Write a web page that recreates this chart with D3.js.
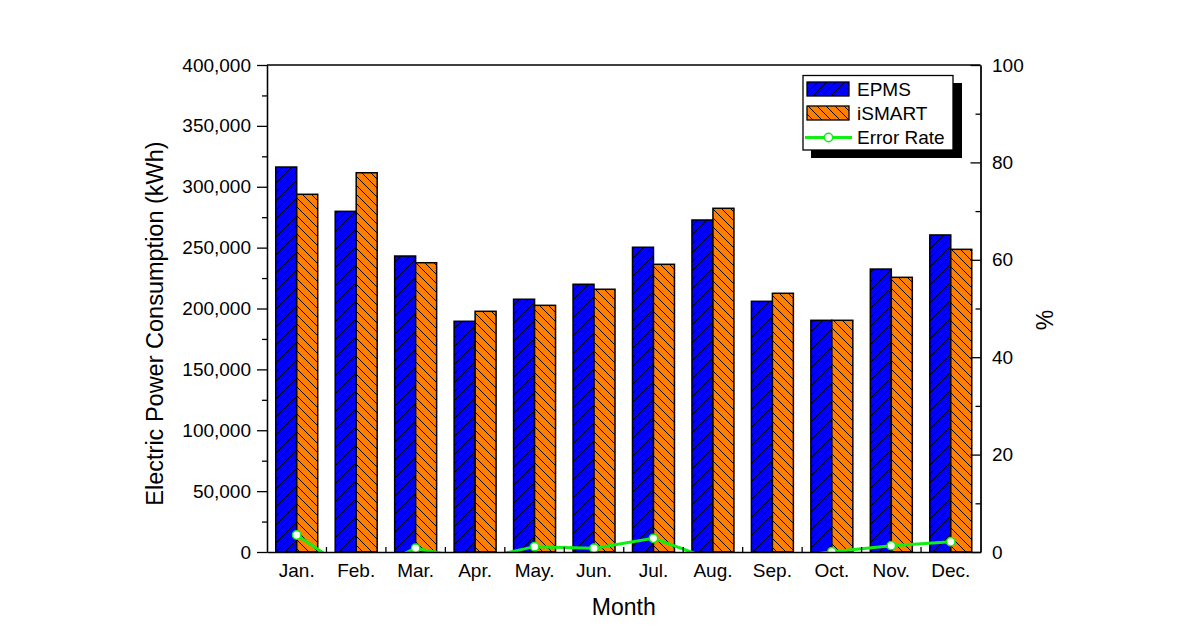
<!DOCTYPE html>
<html><head><meta charset="utf-8">
<script src="https://cdn.jsdelivr.net/npm/d3@7"></script>
<style>body{margin:0;background:#fff;} text{font-family:Arial,"Liberation Sans",sans-serif;fill:#000;}</style>
</head><body><svg id="c" width="1177" height="630"></svg>
<script>
const months = ["Jan.","Feb.","Mar.","Apr.","May.","Jun.","Jul.","Aug.","Sep.","Oct.","Nov.","Dec."];
const epms = [316200, 279800, 243100, 189500, 207600, 219900, 250300, 272700, 205900, 190300, 232400, 260400];
const ismart = [293800, 311500, 237600, 197700, 202600, 215800, 236300, 282300, 212500, 190300, 225600, 248600];
const errorRate = [3.5, -4.8, 0.76, -1.6, 1.1, 0.76, 2.8, -1.6, -1.5, 0.05, 1.3, 2.1];
const leftTicks = [0, 50000, 100000, 150000, 200000, 250000, 300000, 350000, 400000];
const leftMinor = [25000, 75000, 125000, 175000, 225000, 275000, 325000, 375000];
const rightTicks = [0, 20, 40, 60, 80, 100];
const rightMinor = [10, 30, 50, 70, 90];
const seriesNames = ["EPMS", "iSMART", "Error Rate"];

const L = 267, R = 980.5, T = 65, B = 552;
const svg = d3.select("#c");
const defs = svg.append("defs");
const S = 9;
const hb = defs.append("pattern").attr("id","hb").attr("patternUnits","userSpaceOnUse").attr("width",S).attr("height",S);
hb.append("rect").attr("width",S).attr("height",S).attr("fill","#0000ff");
hb.append("path").attr("d",`M-2,2 L2,-2 M0,${S} L${S},0 M${S-2},${S+2} L${S+2},${S-2}`).attr("stroke","#000").attr("stroke-width",1).attr("shape-rendering","crispEdges");
const ho = defs.append("pattern").attr("id","ho").attr("patternUnits","userSpaceOnUse").attr("width",S).attr("height",S);
ho.append("rect").attr("width",S).attr("height",S).attr("fill","#ff8000");
ho.append("path").attr("d",`M-2,${S-2} L2,${S+2} M0,0 L${S},${S} M${S-2},-2 L${S+2},2`).attr("stroke","#000").attr("stroke-width",1).attr("shape-rendering","crispEdges");
defs.append("clipPath").attr("id","clip").append("rect").attr("x",L).attr("y",T).attr("width",R-L).attr("height",B-T);

const x = d3.scaleBand().domain(months).range([L, R]).padding(0);
const bw = x.bandwidth();
const inner = d3.scaleBand().domain([0,1]).range([bw*0.147, bw*0.853]).padding(0);
const yL = d3.scaleLinear().domain([0, 400000]).range([B, T]);
const yR = d3.scaleLinear().domain([0, 100]).range([B, T]);

// bars
const g = svg.append("g");
months.forEach((m, i) => {
  [[epms[i], "url(#hb)"], [ismart[i], "url(#ho)"]].forEach(([v, f], j) => {
    g.append("rect")
      .attr("x", x(m) + inner(j)).attr("width", inner.bandwidth())
      .attr("y", yL(v)).attr("height", B - yL(v))
      .attr("fill", f).attr("stroke", "#000").attr("stroke-width", 1.5);
  });
});

// error line
const lg = svg.append("g").attr("clip-path","url(#clip)");
const line = d3.line().x((d,i) => x(months[i]) + bw/2).y(d => yR(d));
lg.append("path").datum(errorRate).attr("d", line).attr("fill","none").attr("stroke","#11ee11").attr("stroke-width",3);
lg.selectAll("circle").data(errorRate).join("circle")
  .attr("cx",(d,i)=>x(months[i])+bw/2).attr("cy",d=>yR(d)).attr("r",4.2)
  .attr("fill","#fff").attr("stroke","#11ee11").attr("stroke-width",1.5);

// axes
const fmt = d3.format(",");
const ax = (sel) => { sel.selectAll("path,line").attr("stroke","#000").attr("stroke-width",1.3); sel.selectAll("text").style("font-size","19px").attr("font-family","Arial, 'Liberation Sans', sans-serif"); };
svg.append("g").attr("transform",`translate(${L},0)`)
  .call(d3.axisLeft(yL).tickValues(leftTicks).tickFormat(fmt).tickSize(10).tickSizeOuter(0).tickPadding(6)).call(ax);
svg.append("g").attr("transform",`translate(${L},0)`)
  .call(d3.axisLeft(yL).tickValues(leftMinor).tickFormat("").tickSize(5).tickSizeOuter(0)).call(ax);
svg.append("g").attr("transform",`translate(${R},0)`)
  .call(d3.axisRight(yR).tickValues(rightTicks).tickSize(-10).tickSizeOuter(0).tickPadding(11.5)).call(ax);
svg.append("g").attr("transform",`translate(${R},0)`)
  .call(d3.axisRight(yR).tickValues(rightMinor).tickFormat("").tickSize(-5).tickSizeOuter(0)).call(ax);
svg.append("g").attr("transform",`translate(0,${B})`)
  .call(d3.axisBottom(x).tickSize(0).tickSizeOuter(0).tickPadding(12)).call(ax);
// category boundary ticks
svg.append("g").selectAll("line").data(months.slice(1)).join("line")
  .attr("x1", d => x(d)).attr("x2", d => x(d)).attr("y1", B).attr("y2", B-5)
  .attr("stroke","#000").attr("stroke-width",1.3);
// frame top
svg.append("line").attr("x1",L).attr("x2",R).attr("y1",T).attr("y2",T).attr("stroke","#000").attr("stroke-width",1.3);

// titles
svg.append("text").attr("x",(L+R)/2).attr("y",615).attr("text-anchor","middle").style("font-size","23px").text("Month");
svg.append("text").attr("transform",`translate(163,${(T+B)/2+15}) rotate(-90)`).attr("text-anchor","middle").style("font-size","23.5px").text("Electric Power Consumption (kWh)");
svg.append("text").attr("transform",`translate(1053,320) rotate(-90)`).attr("text-anchor","middle").style("font-size","23px").text("%");

// legend
const lgd = svg.append("g");
lgd.append("rect").attr("x",811).attr("y",83).attr("width",151).attr("height",75).attr("fill","#000");
lgd.append("rect").attr("x",803).attr("y",75.5).attr("width",150).attr("height",74.5).attr("fill","#fff").attr("stroke","#000").attr("stroke-width",1.3);
lgd.append("rect").attr("x",807).attr("y",82).attr("width",42).attr("height",14).attr("fill","url(#hb)").attr("stroke","#000").attr("stroke-width",1.3);
lgd.append("rect").attr("x",807).attr("y",106).attr("width",42).attr("height",14).attr("fill","url(#ho)").attr("stroke","#000").attr("stroke-width",1.3);
lgd.append("line").attr("x1",805).attr("x2",852).attr("y1",137.5).attr("y2",137.5).attr("stroke","#11ee11").attr("stroke-width",3);
lgd.append("circle").attr("cx",828.5).attr("cy",137.5).attr("r",4.2).attr("fill","#fff").attr("stroke","#11ee11").attr("stroke-width",1.5);
[96, 120, 144].forEach((yy, i) => {
  lgd.append("text").attr("x",857).attr("y",yy).style("font-size","19px").text(seriesNames[i]);
});
</script></body></html>
